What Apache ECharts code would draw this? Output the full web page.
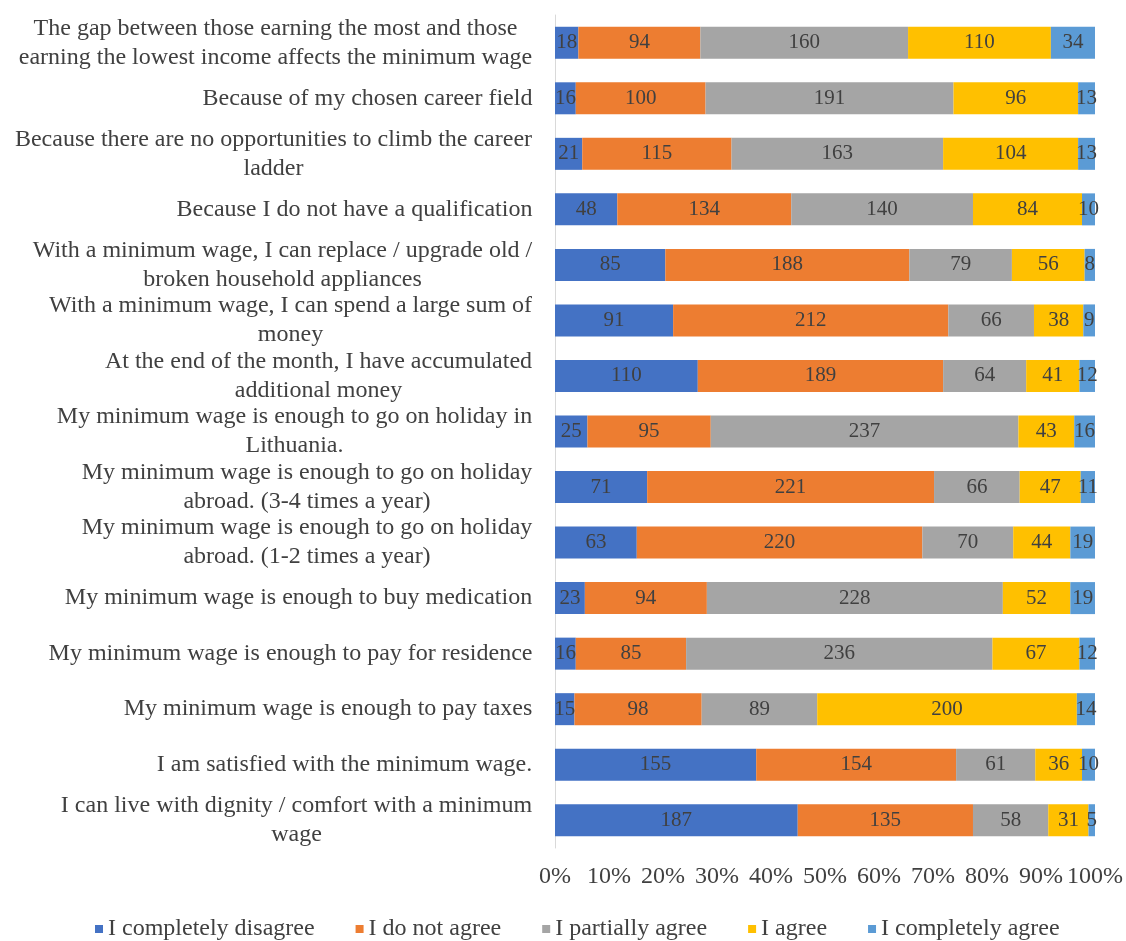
<!DOCTYPE html>
<html><head><meta charset="utf-8">
<script src="https://cdn.jsdelivr.net/npm/echarts@6/dist/echarts.min.js"></script>
<style>html,body{margin:0;padding:0;background:#fff}#c{width:1126px;height:941px}</style>
</head><body><div id="c"></div>
<script>
const categories = [
  "The gap between those earning the most and those\nearning the lowest income affects the minimum wage",
  "Because of my chosen career field",
  "Because there are no opportunities to climb the career\nladder",
  "Because I do not have a qualification",
  "With a minimum wage, I can replace / upgrade old /\nbroken household appliances",
  "With a minimum wage, I can spend a large sum of\nmoney",
  "At the end of the month, I have accumulated\nadditional money",
  "My minimum wage is enough to go on holiday in\nLithuania.",
  "My minimum wage is enough to go on holiday\nabroad. (3-4 times a year)",
  "My minimum wage is enough to go on holiday\nabroad. (1-2 times a year)",
  "My minimum wage is enough to buy medication",
  "My minimum wage is enough to pay for residence",
  "My minimum wage is enough to pay taxes",
  "I am satisfied with the minimum wage.",
  "I can live with dignity / comfort with a minimum\nwage"
];
const seriesNames = ["I completely disagree","I do not agree","I partially agree","I agree","I completely agree"];
const completelyDisagree = [18,16,21,48,85,91,110,25,71,63,23,16,15,155,187];
const doNotAgree = [94,100,115,134,188,212,189,95,221,220,94,85,98,154,135];
const partiallyAgree = [160,191,163,140,79,66,64,237,66,70,228,236,89,61,58];
const agree = [110,96,104,84,56,38,41,43,47,44,52,67,200,36,31];
const completelyAgree = [34,13,13,10,8,9,12,16,11,19,19,12,14,10,5];
const xTicks = ["0%","10%","20%","30%","40%","50%","60%","70%","80%","90%","100%"];

const colors = ["#4472C4","#ED7D31","#A5A5A5","#FFC000","#5B9BD5"];
const raw = [completelyDisagree, doNotAgree, partiallyAgree, agree, completelyAgree];
const totals = categories.map((_, i) => raw.reduce((s, arr) => s + arr[i], 0));
const FONT = '"Liberation Serif", "Times New Roman", serif';
const FS = 24;

// measure widths so multi-line labels are centered within their block
const cv = document.createElement('canvas').getContext('2d');
cv.font = FS + 'px ' + FONT;
const rich = {};
categories.forEach((c, i) => {
  const w = Math.max(...c.split('\n').map(l => cv.measureText(l).width));
  rich['r' + i] = { width: Math.ceil(w) + 1, align: 'center', fontFamily: FONT, fontSize: FS, color: '#404040', lineHeight: 29 };
});

const chart = echarts.init(document.getElementById('c'));
chart.setOption({
  animation: false,
  color: colors,
  textStyle: { fontFamily: FONT },
  grid: { left: 555, right: 31, top: 15, bottom: 93, containLabel: false },
  legend: {
    top: 917, left: 95, padding: 0,
    itemWidth: 8, itemHeight: 8, itemGap: 41, icon: 'rect',
    textStyle: { fontFamily: FONT, fontSize: FS, color: '#404040' },
    data: seriesNames
  },
  xAxis: {
    type: 'value', min: 0, max: 100, interval: 10,
    splitLine: { show: false },
    axisLine: { show: false }, axisTick: { show: false },
    axisLabel: { fontFamily: FONT, fontSize: FS, color: '#404040', margin: 17,
      formatter: v => xTicks[Math.round(v / 10)] }
  },
  yAxis: {
    type: 'category', inverse: true, data: categories,
    axisLine: { show: true, lineStyle: { color: '#D9D9D9', width: 1 } },
    axisTick: { show: false },
    axisLabel: {
      margin: 22, align: 'right',
      formatter: (v, idx) => v.split('\n').map(l => '{r' + idx + '|' + l + '}').join('\n'),
      rich: rich
    }
  },
  series: raw.map((arr, si) => ({
    name: seriesNames[si], type: 'bar', stack: 'total', barWidth: 32,
    data: arr.map((v, i) => ({ value: v / totals[i] * 100, raw: v })),
    itemStyle: { borderWidth: 0 },
    label: {
      show: true, position: 'inside', fontFamily: FONT, fontSize: 21, color: '#404040',
      formatter: p => String(p.data.raw)
    },
    labelLayout: { hideOverlap: false }
  }))
});
</script></body></html>
